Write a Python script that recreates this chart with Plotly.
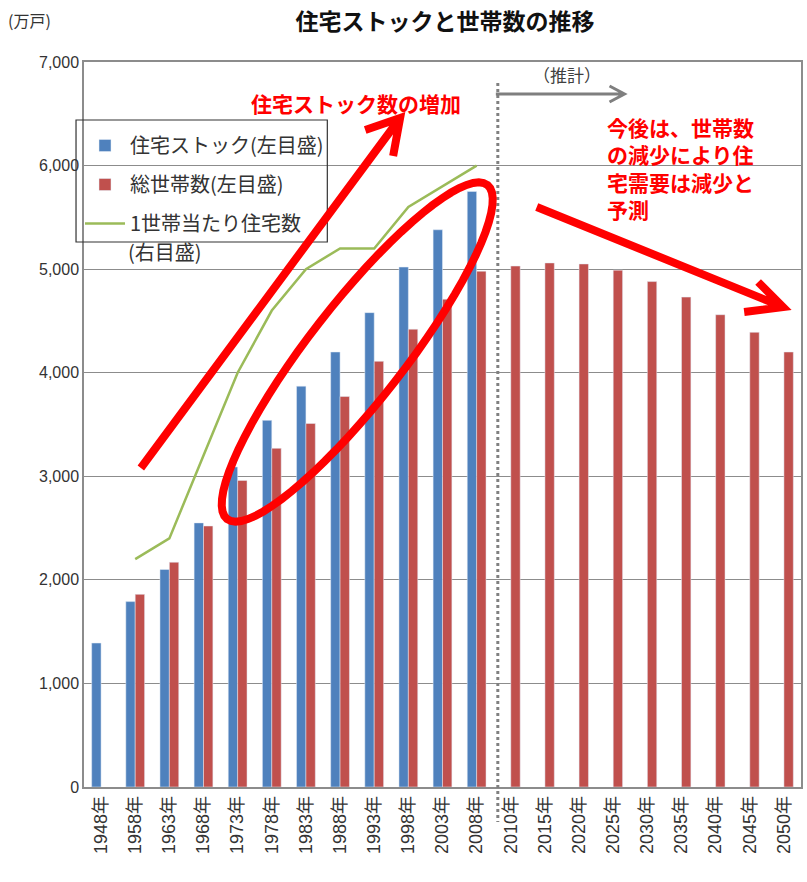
import math
import plotly.graph_objects as go

# ---------------- data ----------------
years = ["1948年", "1958年", "1963年", "1968年", "1973年", "1978年", "1983年", "1988年",
         "1993年", "1998年", "2003年", "2008年", "2010年", "2015年", "2020年", "2025年",
         "2030年", "2035年", "2040年", "2045年", "2050年"]
housing_stock = [1390, 1790, 2100, 2550, 3090, 3540, 3870, 4200, 4580, 5020, 5380, 5750,
                 None, None, None, None, None, None, None, None, None]
households = [None, 1860, 2170, 2520, 2960, 3270, 3510, 3770, 4110, 4420, 4710, 4980,
              5030, 5060, 5050, 4990, 4880, 4730, 4560, 4390, 4200]
per_household = [None, 0.96, 0.97, 1.01, 1.05, 1.08, 1.10, 1.11, 1.11, 1.13, 1.14, 1.15,
                 None, None, None, None, None, None, None, None, None]
y_ticks = [0, 1000, 2000, 3000, 4000, 5000, 6000, 7000]

# ---------------- layout geometry (pixels) ----------------
FW, FH = 807, 882
L, R, T, B = 84, 803, 62, 787
W, H = R - L, B - T


def P(x, y):
    return ((x - L) / W, (B - y) / H)


def path(points, close=False, moves=()):
    s = ""
    for i, (x, y) in enumerate(points):
        px, py = P(x, y)
        s += ("M" if i == 0 or i in moves else "L") + f"{px:.5f},{py:.5f} "
    return s + ("Z" if close else "")


JP = "Noto Sans CJK JP"
NUM = "Liberation Sans, Noto Sans CJK JP"
BLUE = "#4F81BD"
RED = "#C0504D"
GREEN = "#9BBB59"
GRID = "#8C8C8C"

fig = go.Figure()
fig.add_trace(go.Bar(x=years, y=housing_stock, name="住宅ストック(左目盛)",
                     marker_color=BLUE, legendgroup="a"))
fig.add_trace(go.Bar(x=years, y=households, name="総世帯数(左目盛)",
                     marker_color=RED, legendgroup="b"))
fig.add_trace(go.Scatter(x=years, y=per_household, name="1世帯当たり住宅数",
                         mode="lines", line=dict(color=GREEN, width=2.5),
                         yaxis="y2", legendgroup="c", connectgaps=False))

shapes = []
# dotted divider between actual and projection
shapes.append(dict(type="line", xref="x", yref="paper", x0=11.62, x1=11.62,
                   y0=P(0, 83)[1], y1=P(0, 822)[1],
                   line=dict(color="#808080", width=3, dash="dot")))
# legend border
lx0, ly0 = P(76, 120)
lx1, ly1 = P(328, 242)
shapes.append(dict(type="rect", xref="paper", yref="paper", x0=lx0, y0=ly1, x1=lx1, y1=ly0,
                   line=dict(color="#333333", width=1.2), fillcolor="rgba(0,0,0,0)"))
# gray projection arrow
shapes.append(dict(type="path", xref="paper", yref="paper",
                   path=path([(497, 94), (626, 94), (611, 86), (626, 94), (611, 102)], moves=(2,)),
                   line=dict(color="#7F7F7F", width=3)))
# red ellipse
cx, cy, a, b, th = 358, 352, 212, 48, math.radians(52)
pts = []
for i in range(73):
    t = 2 * math.pi * i / 72
    dx = a * math.cos(t) * math.cos(th) - b * math.sin(t) * math.sin(th)
    dy = a * math.cos(t) * math.sin(th) + b * math.sin(t) * math.cos(th)
    pts.append((cx + dx, cy - dy))
shapes.append(dict(type="path", xref="paper", yref="paper", path=path(pts, close=True),
                   line=dict(color="#FF0000", width=8)))
# red arrow up
shapes.append(dict(type="path", xref="paper", yref="paper",
                   path=path([(141, 468), (401, 118), (366, 130), (401, 118), (394, 156)], moves=(2,)),
                   line=dict(color="#FF0000", width=8)))
# red arrow down
shapes.append(dict(type="path", xref="paper", yref="paper",
                   path=path([(538, 207), (785, 307), (760, 282), (785, 307), (746, 312)], moves=(2,)),
                   line=dict(color="#FF0000", width=8)))

annotations = []


def ann(x, y, text, size, color, bold=False, xanchor="center", yanchor="middle", family=JP, align="left"):
    px, py = P(x, y)
    annotations.append(dict(xref="paper", yref="paper", x=px, y=py, text=(f"<b>{text}</b>" if bold else text),
                            showarrow=False, xanchor=xanchor, yanchor=yanchor, align=align,
                            font=dict(family=family, size=size, color=color)))


ann(6, 20, "(万戸)", 16, "#333333", xanchor="left")
ann(568, 75, "（推計）", 17, "#404040")
ann(357, 103, "住宅ストック数の増加", 21, "#FF0000", bold=True)
ann(606, 110, "今後は、世帯数<br>の減少により住<br>宅需要は減少と<br>予測", 21, "#FF0000",
    bold=True, xanchor="left", yanchor="top")
# second line of the third legend entry (overflows the legend box as in the original)
ann(126, 251, "(右目盛)", 20, "#333333", xanchor="left")

fig.update_layout(
    width=FW, height=FH,
    margin=dict(l=L, r=FW - R, t=T, b=FH - B),
    paper_bgcolor="white", plot_bgcolor="white",
    title=dict(text="<b>住宅ストックと世帯数の推移</b>", x=445 / FW, xanchor="center",
               y=1 - 22 / FH, yanchor="middle", font=dict(family=JP, size=23, color="#111111")),
    barmode="group", bargap=0.45, bargroupgap=0,
    font=dict(family=JP, color="#333333"),
    showlegend=True,
    legend=dict(x=P(80, 0)[0], y=P(0, 126)[1], xanchor="left", yanchor="top",
                bgcolor="rgba(0,0,0,0)", borderwidth=0, tracegroupgap=10,
                valign="top", font=dict(family=JP, size=20, color="#333333"), itemwidth=40),
    xaxis=dict(type="category", tickangle=-90, tickfont=dict(family=NUM, size=18, color="#333333"),
               showline=True, linecolor=GRID, linewidth=1.5, mirror=True, ticks="",
               showgrid=False, range=[-0.5, 20.5]),
    yaxis=dict(range=[0, 7000], tickvals=y_ticks, tickformat=",", showgrid=True,
               gridcolor=GRID, gridwidth=1, showline=True, linecolor=GRID, linewidth=1.5,
               mirror=True, ticks="", zeroline=False,
               tickfont=dict(family=NUM, size=16, color="#333333")),
    yaxis2=dict(range=[0.85, 1.2], overlaying="y", side="right", visible=False),
    shapes=shapes, annotations=annotations,
)

fig.write_html("out.html", config={"displayModeBar": False},
               post_script="document.body.style.margin='0';document.body.style.padding='0';")
